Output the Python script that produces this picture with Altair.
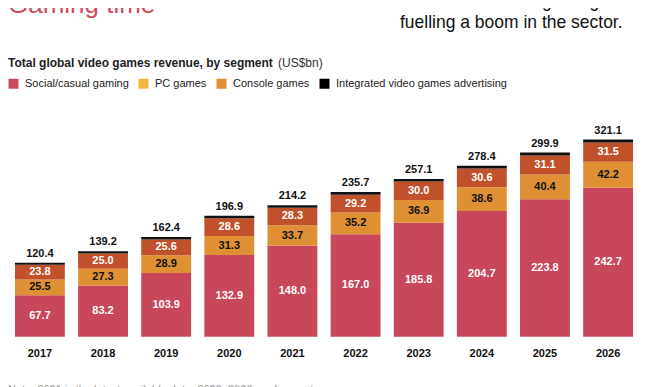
import altair as alt
import pandas as pd

FONT = "Liberation Sans"

years = ["2017", "2018", "2019", "2020", "2021", "2022", "2023", "2024", "2025", "2026"]
social = [67.7, 83.2, 103.9, 132.9, 148.0, 167.0, 185.8, 204.7, 223.8, 242.7]
pc_games = [25.5, 27.3, 28.9, 31.3, 33.7, 35.2, 36.9, 38.6, 40.4, 42.2]
console = [23.8, 25.0, 25.6, 28.6, 28.3, 29.2, 30.0, 30.6, 31.1, 31.5]
advertising = [3.4, 3.7, 4.0, 4.1, 4.2, 4.3, 4.4, 4.5, 4.6, 4.7]
totals = [120.4, 139.2, 162.4, 196.9, 214.2, 235.7, 257.1, 278.4, 299.9, 321.1]

segments = ["Social/casual gaming", "PC games", "Console games", "Integrated video games advertising"]
bar_colors = ["#C8475A", "#DF9035", "#C0512A", "#111111"]
legend_colors = ["#CC4A5C", "#F4B73E", "#E09030", "#000000"]

title_text = "Gaming time"
deck_lines = ["Social and casual gaming is", "fuelling a boom in the sector."]
subtitle_bold = "Total global video games revenue, by segment"
subtitle_unit = "(US$bn)"
note_text = "Note: 2021 is the latest available data; 2022–2026 are forecasts"

rows = []
for i, y in enumerate(years):
    for k, vals in enumerate([social, pc_games, console, advertising]):
        rows.append({"year": y, "segment": segments[k], "order": k,
                     "value": vals[i], "lbl": f"{vals[i]:.1f}"})
df = pd.DataFrame(rows)
df_tot = pd.DataFrame({"year": years, "total": totals, "lbl": [f"{t:.1f}" for t in totals]})

yscale = alt.Scale(domain=[0, 340], nice=False, zero=True)
xenc = alt.X("year:O", sort=years,
             scale=alt.Scale(paddingInner=0.21, paddingOuter=0.11),
             axis=alt.Axis(title=None, domain=False, ticks=False, tickSize=0, labelAngle=0,
                           labelFont=FONT, labelFontSize=11, labelFontWeight="bold",
                           labelColor="#111111", labelPadding=11))

bars = alt.Chart(df).mark_bar().encode(
    x=xenc,
    y=alt.Y("value:Q", stack="zero", scale=yscale, axis=None),
    color=alt.Color("segment:N", scale=alt.Scale(domain=segments, range=bar_colors), legend=None),
    order=alt.Order("order:Q", sort="ascending"),
)

stacked = (alt.Chart(df)
           .transform_stack(stack="value", groupby=["year"], as_=["y0", "y1"],
                            sort=[alt.SortField("order", order="ascending")])
           .transform_calculate(mid="(datum.y0 + datum.y1) / 2"))

lab_white = stacked.transform_filter("datum.order == 0 || datum.order == 2").mark_text(
    font=FONT, fontSize=11, fontWeight="bold", color="white", baseline="middle").encode(
    x=alt.X("year:O", sort=years), y=alt.Y("mid:Q", scale=yscale, axis=None), text="lbl:N")
lab_black = stacked.transform_filter("datum.order == 1").mark_text(
    font=FONT, fontSize=11, fontWeight="bold", color="#111111", baseline="middle").encode(
    x=alt.X("year:O", sort=years), y=alt.Y("mid:Q", scale=yscale, axis=None), text="lbl:N")

tot = alt.Chart(df_tot).mark_text(font=FONT, fontSize=11, fontWeight="bold", color="#111111",
                                  baseline="middle", dy=-9).encode(
    x=alt.X("year:O", sort=years), y=alt.Y("total:Q", scale=yscale, axis=None), text="lbl:N")

legend_layer = alt.Chart(pd.DataFrame({"segment": segments})).mark_square(size=0, opacity=0).encode(
    color=alt.Color("segment:N", scale=alt.Scale(domain=segments, range=legend_colors),
                    legend=alt.Legend(title=None, orient="none", legendX=0, legendY=-50,
                                      direction="horizontal", symbolType="square", symbolSize=100,
                                      symbolStrokeWidth=0, symbolOpacity=1, labelFont=FONT,
                                      labelFontSize=11, labelColor="#222222", labelOffset=6,
                                      labelLimit=0, columnPadding=9, padding=0))
)

def txt(s, x, y, **kw):
    return alt.Chart(pd.DataFrame({"t": [s]})).mark_text(font=FONT, align="left", **kw).encode(
        x=alt.value(x), y=alt.value(y), text="t:N")

title = txt(title_text, 0, -115, fontSize=26, color="#D04C5E", baseline="alphabetic")
deck1 = txt(deck_lines[0], 392, -121, fontSize=17.5, color="#111111", baseline="alphabetic")
deck2 = txt(deck_lines[1], 392, -100, fontSize=17.5, color="#111111", baseline="alphabetic")
sub1 = txt(subtitle_bold, 0, -61, fontSize=12, fontWeight="bold", color="#222222", baseline="alphabetic")
sub2 = txt(subtitle_unit, 270, -61, fontSize=12, color="#333333", baseline="alphabetic")
note = txt(note_text, 0, 256, fontSize=11, color="#999999", baseline="top")

chart = alt.layer(bars, lab_white, lab_black, tot, legend_layer,
                  title, deck1, deck2, sub1, sub2, note).resolve_scale(color="independent").properties(
    width=632, height=208.7,
    autosize=alt.AutoSizeParams(type="none"),
    padding={"left": 0, "top": 120, "right": 5, "bottom": 50},
).configure_view(stroke=None)

chart.save("out.html", embed_options={"renderer": "svg", "actions": False})
